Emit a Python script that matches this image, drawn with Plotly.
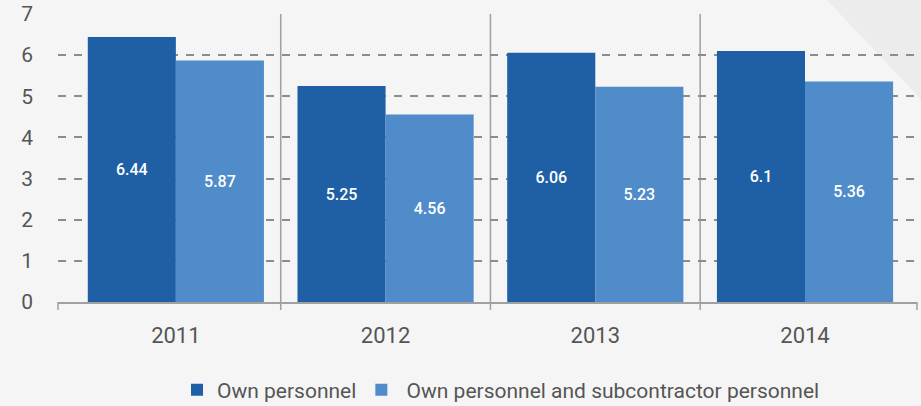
import plotly.graph_objects as go

years = ["2011", "2012", "2013", "2014"]
own = [6.44, 5.25, 6.06, 6.1]
own_sub = [5.87, 4.56, 5.23, 5.36]
own_labels = ["6.44", "5.25", "6.06", "6.1"]
own_sub_labels = ["5.87", "4.56", "5.23", "5.36"]
series_names = ["Own personnel", " Own personnel and subcontractor personnel"]

DARK = "#1e5fa6"
LIGHT = "#4f8cc9"
BG = "#f5f5f5"
TXT = "#555555"
FONT = "Roboto"

fig = go.Figure()
fig.add_trace(go.Bar(x=years, y=own, name=series_names[0], marker=dict(color=DARK, line_width=0),
                     text=own_labels, textposition="inside", insidetextanchor="middle",
                     textfont=dict(color="white", size=16, family=FONT, weight=500), hoverinfo="skip"))
fig.add_trace(go.Bar(x=years, y=own_sub, name=series_names[1], marker=dict(color=LIGHT, line_width=0),
                     text=own_sub_labels, textposition="inside", insidetextanchor="middle",
                     textfont=dict(color="white", size=16, family=FONT, weight=500), hoverinfo="skip"))

L, R, T, B = 58, 4, 14, 104
W, H = 921, 406
pw = W - L - R
ph = H - T - B

shapes = []
def px(xp):
    return (xp - L) / pw
def py(yp):
    return (H - B - yp) / ph
shapes.append(dict(type="path", xref="paper", yref="paper", layer="below",
                   path=f"M {px(825)} {py(-2)} L {px(930)} {py(-2)} L {px(930)} {py(109)} Z",
                   fillcolor="#ececec", line=dict(width=0)))
for xv in [0.5, 1.5, 2.5]:
    shapes.append(dict(type="line", xref="x", yref="paper", x0=xv, x1=xv, y0=-8 / ph, y1=1,
                       line=dict(color="#a0a0a0", width=1.5), layer="below"))
for xp in [0, 1]:
    shapes.append(dict(type="line", xref="paper", yref="paper", x0=xp, x1=xp, y0=-8 / ph, y1=0,
                       line=dict(color="#a0a0a0", width=1.5)))

fig.update_layout(
    width=W, height=H,
    margin=dict(l=L, r=R, t=T, b=B, autoexpand=False),
    paper_bgcolor=BG, plot_bgcolor="rgba(0,0,0,0)",
    barmode="group", bargap=0.16, bargroupgap=0,
    font=dict(family=FONT, color=TXT),
    shapes=shapes,
    showlegend=True,
    legend=dict(orientation="h", x=px(177), xanchor="left", y=py(390), yanchor="middle",
                font=dict(size=21, color=TXT, family=FONT), bgcolor="rgba(0,0,0,0)",
                itemsizing="constant", traceorder="normal", itemwidth=30),
    xaxis=dict(type="category", range=[-0.562, 3.534], showgrid=False, showline=True,
               linecolor="#a0a0a0", linewidth=1.5, ticks="", ticklabelstandoff=13,
               tickfont=dict(size=22, color=TXT, family=FONT), fixedrange=True),
    yaxis=dict(range=[0, 7], tickvals=[0, 1, 2, 3, 4, 5, 6, 7], showgrid=True,
               gridcolor="#8c8c8c", gridwidth=1.5, griddash="8px,8px", zeroline=False,
               showline=False, ticks="", ticklabelstandoff=24,
               tickfont=dict(size=21, color=TXT, family=FONT), fixedrange=True),
)

fig.write_html("out.html", config={"displayModeBar": False},
               post_script="document.body.style.margin='0';document.body.style.background='#f5f5f5';")
